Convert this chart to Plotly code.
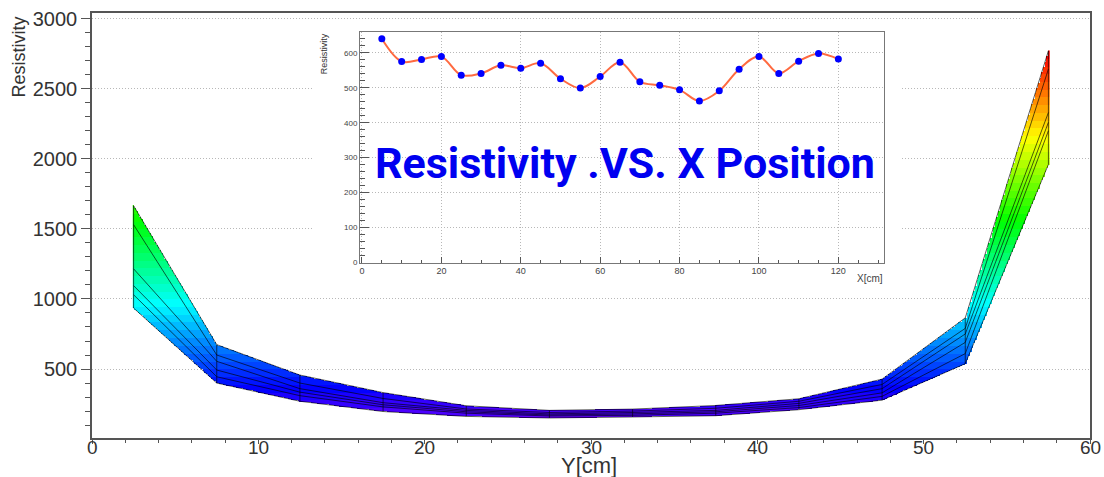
import colorsys
import numpy as np
import plotly.graph_objects as go

# ---------------- data ----------------
# main chart: resistivity vs Y position, one line per X scan
Y_POS = [2.5, 7.5, 12.5, 17.5, 22.5, 27.5, 32.5, 37.5, 42.5, 47.5, 52.5, 57.5]
RES_1 = [1665, 674, 457, 332, 238, 205, 214, 240, 288, 428, 865, 2770]
RES_2 = [1530, 600, 400, 290, 215, 190, 200, 220, 270, 390, 790, 2640]
RES_3 = [1215, 555, 360, 260, 205, 180, 190, 205, 255, 360, 750, 2330]
RES_4 = [1095, 493, 335, 245, 195, 172, 180, 195, 240, 330, 690, 2260]
RES_5 = [1030, 445, 310, 230, 185, 165, 170, 185, 225, 305, 610, 2200]
RES_6 = [935, 400, 270, 197, 162, 151, 158, 167, 210, 278, 538, 1960]

# inset: resistivity vs X position
X_POS = [5, 10, 15, 20, 25, 30, 35, 40, 45, 50, 55, 60,
         65, 70, 75, 80, 85, 90, 95, 100, 105, 110, 115, 120]
RES_X = [640, 575, 581, 589, 536, 541, 564, 556, 570, 526, 499, 532,
         573, 517, 507, 494, 462, 491, 553, 589, 541, 576, 598, 582]

MAIN_YTICKS = [500, 1000, 1500, 2000, 2500, 3000]
MAIN_XTICKS = [0, 10, 20, 30, 40, 50, 60]
INSET_XTICKS = [0, 20, 40, 60, 80, 100, 120]
INSET_YTICKS = [0, 100, 200, 300, 400, 500, 600]

# ---------------- derived rendering ----------------
lines = np.array([RES_1, RES_2, RES_3, RES_4, RES_5, RES_6], dtype=float)
ypos = np.array(Y_POS, dtype=float)
upper = lines.max(axis=0)
lower = lines.min(axis=0)

gx = np.arange(ypos[0], ypos[-1] + 1e-9, 0.1)
gy = np.arange(0.0, upper.max() + 5.0, 5.0)
up_i = np.interp(gx, ypos, upper)
lo_i = np.interp(gx, ypos, lower)
G = np.tile(gy[:, None], (1, len(gx)))
mask = (G >= lo_i[None, :]) & (G <= up_i[None, :])
Z = np.where(mask, G, np.nan)

# ROOT "pretty palette": 50 hues violet -> red
n = 50
cscale = []
for k in range(n):
    hue = (280.0 - (k + 1) * 280.0 / n) / 360.0
    r, g, b = colorsys.hls_to_rgb(hue, 0.5, 1.0)
    c = "rgb(%d,%d,%d)" % (round(r * 255), round(g * 255), round(b * 255))
    cscale.append([k / n, c])
    cscale.append([(k + 1) / n, c])

fig = go.Figure()

fig.add_trace(go.Heatmap(
    x=gx, y=gy, z=Z, colorscale=cscale, zmin=0, zmax=float(upper.max()),
    showscale=False, hoverinfo="skip", zsmooth=False,
))

for row in lines:
    fig.add_trace(go.Scatter(
        x=Y_POS, y=row, mode="lines",
        line=dict(color="rgba(0,0,0,0.8)", width=0.8),
        hoverinfo="skip", showlegend=False,
    ))

vx, vy = [], []
for xv, lo, hi in zip(Y_POS, lower, upper):
    vx += [xv, xv, None]
    vy += [lo, hi, None]
fig.add_trace(go.Scatter(
    x=vx, y=vy, mode="lines", line=dict(color="rgba(0,0,0,0.8)", width=0.8),
    hoverinfo="skip", showlegend=False,
))

# cover subplot (white box behind the inset)
fig.add_trace(go.Scatter(
    x=[0.5], y=[0.5], xaxis="x2", yaxis="y2", mode="markers",
    marker=dict(opacity=0), hoverinfo="skip", showlegend=False,
))

# inset
fig.add_trace(go.Scatter(
    x=X_POS, y=RES_X, xaxis="x3", yaxis="y3", mode="lines",
    line=dict(color="#ff6a40", width=2, shape="spline", smoothing=1.0),
    hoverinfo="skip", showlegend=False,
))
fig.add_trace(go.Scatter(
    x=X_POS, y=RES_X, xaxis="x3", yaxis="y3", mode="markers",
    marker=dict(color="#0000ff", size=7),
    hoverinfo="skip", showlegend=False,
))

L, R, T, B = 92, 14, 8, 39
W, H = 1104, 477
PW, PH = W - L - R, H - T - B


def px_x(p):
    return (p - L) / PW


def px_y(p):
    return (H - B - p) / PH


FONT = "Liberation Sans, Arial, sans-serif"
GRID_DASH = "1px,2px"

annotations = [
    dict(text="Resistivity", xref="paper", yref="paper", x=px_x(19), y=px_y(10),
         xanchor="center", yanchor="top", textangle=-90, showarrow=False,
         font=dict(family=FONT, size=18, color="#333333")),
    dict(text="Y[cm]", xref="paper", yref="paper", x=px_x(589), y=px_y(466),
         xanchor="center", yanchor="middle", showarrow=False,
         font=dict(family=FONT, size=22, color="#333333")),
    dict(text="Resistivity", xref="paper", yref="paper", x=px_x(324), y=px_y(27),
         xanchor="center", yanchor="top", textangle=-90, showarrow=False,
         font=dict(family=FONT, size=9, color="#333333")),
    dict(text="X[cm]", xref="paper", yref="paper", x=px_x(885), y=px_y(277),
         xanchor="right", yanchor="middle", showarrow=False,
         font=dict(family=FONT, size=10, color="#444")),
    dict(text="<b>Resistivity .VS. X Position</b>", xref="paper", yref="paper",
         x=px_x(625), y=px_y(160), xanchor="center", yanchor="middle", showarrow=False,
         font=dict(family="Roboto, sans-serif", size=43, color="#0000f0")),
]
# main x tick labels placed just under the axis (as in the ROOT canvas)
for t in MAIN_XTICKS:
    annotations.append(dict(
        text=str(t), xref="x", yref="paper", x=t, y=px_y(447.5),
        xanchor="center", yanchor="middle", showarrow=False,
        font=dict(family=FONT, size=19, color="#333333"),
    ))

fig.update_layout(
    width=W, height=H,
    margin=dict(l=L, r=R, t=T, b=B),
    paper_bgcolor="white", plot_bgcolor="white",
    showlegend=False,
    xaxis=dict(
        domain=[0, 1], range=[0, 60], tickvals=MAIN_XTICKS, showticklabels=False,
        ticks="outside", ticklen=4, tickcolor="#555",
        minor=dict(dtick=2, ticks="outside", ticklen=3, tickcolor="#555"),
        showline=True, mirror=True, linecolor="#555", linewidth=1.5,
        showgrid=False, zeroline=False,
    ),
    yaxis=dict(
        domain=[0, 1], range=[8, 3040], tickvals=MAIN_YTICKS,
        ticks="outside", ticklen=9, tickcolor="#555",
        minor=dict(dtick=100, tick0=0, ticks="outside", ticklen=5, tickcolor="#555", showgrid=False),
        showline=True, mirror=True, linecolor="#555", linewidth=1.5,
        showgrid=True, gridcolor="#b8b8b8", griddash=GRID_DASH, gridwidth=1,
        zeroline=False, tickfont=dict(family=FONT, size=20, color="#333333"),
    ),
    xaxis2=dict(domain=[px_x(313), px_x(902)], range=[0, 1], visible=False, anchor="y2"),
    yaxis2=dict(domain=[px_y(290), px_y(20)], range=[0, 1], visible=False, anchor="x2"),
    xaxis3=dict(
        domain=[px_x(360), px_x(884)], range=[-0.5, 131.5], anchor="y3",
        tickvals=INSET_XTICKS, ticks="inside", ticklen=6, tickcolor="#555",
        minor=dict(dtick=5, tick0=0, ticks="inside", ticklen=3, tickcolor="#555", showgrid=False),
        showline=True, mirror=True, linecolor="#777", linewidth=1,
        showgrid=True, gridcolor="#b8b8b8", griddash=GRID_DASH, gridwidth=1, zeroline=False,
        tickfont=dict(family=FONT, size=9, color="#444"),
    ),
    yaxis3=dict(
        domain=[px_y(260.5), px_y(27.7)], range=[0, 658], anchor="x3",
        tickvals=INSET_YTICKS, ticks="inside", ticklen=9, tickcolor="#555",
        minor=dict(dtick=20, tick0=0, ticks="inside", ticklen=5, tickcolor="#555", showgrid=False),
        showline=True, mirror=True, linecolor="#777", linewidth=1,
        showgrid=True, gridcolor="#b8b8b8", griddash=GRID_DASH, gridwidth=1, zeroline=False,
        tickfont=dict(family=FONT, size=8, color="#444"),
    ),
    shapes=[dict(
        type="rect", xref="x2", yref="y2", x0=0, x1=1, y0=0, y1=1,
        fillcolor="white", line=dict(width=0), layer="below",
    )],
    annotations=annotations,
)

fig.write_html("out.html")
